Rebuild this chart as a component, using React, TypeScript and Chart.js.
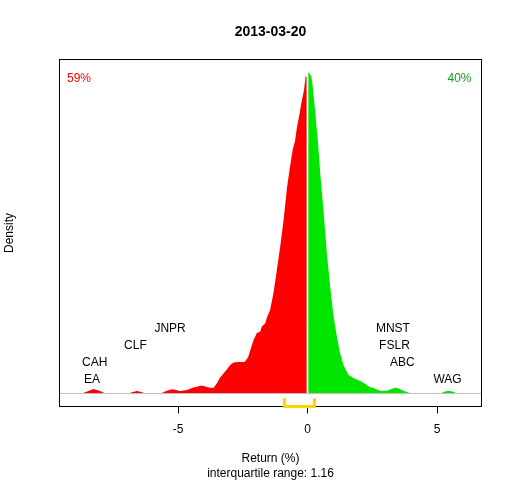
import React, { useEffect, useRef } from "react";
import { Chart, registerables } from "chart.js";

Chart.register(...registerables);

const FONT = "'Liberation Sans', Arial, Helvetica, sans-serif";

const chartTitle = "2013-03-20";
const xTitleLines = ["Return (%)", "interquartile range: 1.16"];
const yTitle = "Density";
const lossShare = "59%";
const gainShare = "40%";

const xMin = -9.58;
const xMax = 6.71;
const yMin = -0.0217;
const yMax = 0.5564;
const xTickValues = [-5, 0, 5];

// density of negative returns (red)
const lossX = [
  -8.72, -8.51, -8.27, -8.01, -7.82, -6.93, -6.75, -6.59, -6.43, -6.27,
  -5.63, -5.46, -5.24, -5.08, -4.92, -4.66, -4.41, -4.08, -3.83, -3.64,
  -3.51, -3.38, -3.25, -3.12, -2.99, -2.86, -2.68, -2.48, -2.41, -2.29,
  -2.09, -1.96, -1.83, -1.77, -1.64, -1.58, -1.45, -1.32, -1.19, -1.06,
  -0.93, -0.8, -0.7, -0.64, -0.57, -0.49, -0.42, -0.32, -0.22, -0.14,
  -0.08, -0.035,
];
const lossDensity = [
  0, 0.0033, 0.0075, 0.0042, 0, 0, 0.0025, 0.0042, 0.0025, 0,
  0.0008, 0.0042, 0.007, 0.0058, 0.0042, 0.0058, 0.01, 0.0133, 0.01, 0.0092,
  0.0167, 0.0267, 0.0333, 0.04, 0.0475, 0.0517, 0.0525, 0.0525, 0.0533, 0.0617,
  0.0892, 0.1008, 0.1033, 0.1117, 0.1167, 0.1258, 0.1392, 0.1675, 0.2058, 0.245,
  0.2892, 0.3425, 0.3725, 0.3892, 0.4083, 0.42, 0.4417, 0.4642, 0.4892, 0.5058,
  0.528, 0.528,
];

// density of positive returns (green)
const gainX = [
  0.02, 0.07, 0.14, 0.19, 0.22, 0.26, 0.3, 0.34, 0.38, 0.42,
  0.46, 0.48, 0.61, 0.74, 0.87, 1.0, 1.13, 1.25, 1.38, 1.58,
  1.77, 2.03, 2.15, 2.41, 2.54, 2.8, 3.06, 3.31, 3.44, 3.7,
  3.96, 3.98, 5.12, 5.27, 5.44, 5.61, 5.76,
];
const gainDensity = [
  0.535, 0.5333, 0.528, 0.5142, 0.5, 0.4833, 0.4667, 0.4447, 0.428, 0.4058,
  0.3833, 0.37, 0.3058, 0.2342, 0.178, 0.128, 0.0947, 0.0675, 0.0475, 0.0308,
  0.0258, 0.0208, 0.018, 0.0103, 0.0092, 0.0047, 0.0047, 0.0087, 0.0097, 0.0047,
  0.0003, 0, 0, 0.003, 0.0047, 0.003, 0,
];

// labelled stocks
const stockNames = ["CAH", "EA", "CLF", "JNPR", "MNST", "FSLR", "ABC", "WAG"];
const stockReturns = [-8.22, -8.33, -6.65, -5.31, 3.29, 3.35, 3.65, 5.4];
const stockLabelY = [0.053, 0.0253, 0.082, 0.11, 0.11, 0.082, 0.053, 0.0253];

// interquartile range bracket
const iqrLow = -0.9;
const iqrHigh = 0.26;
const bracketTop = -0.008;

const RED = "#FF0000";
const GREEN = "#00E600";
const GREEN_TEXT = "#16A016";
const GOLD = "#FFD200";
const GRAY = "#BEBEBE";

export default function App() {
  const ref = useRef<HTMLCanvasElement>(null);

  useEffect(() => {
    const canvas = ref.current;
    if (!canvas) return;
    Chart.defaults.font.family = FONT;

    const boxPlugin = {
      id: "plotBox",
      beforeDatasetsDraw(chart: any) {
        const { ctx, chartArea } = chart;
        const { left, top, right, bottom } = chartArea;
        ctx.save();
        ctx.strokeStyle = "#000000";
        ctx.lineWidth = 1;
        ctx.strokeRect(left, top, right - left, bottom - top);
        ctx.restore();
      },
    };

    const textPlugin = {
      id: "annotations",
      afterDatasetsDraw(chart: any) {
        const { ctx, chartArea, scales } = chart;
        const xs = scales.x;
        const ys = scales.y;
        ctx.save();
        // main title
        ctx.fillStyle = "#000000";
        ctx.font = `bold 14px ${FONT}`;
        ctx.textAlign = "center";
        ctx.textBaseline = "middle";
        ctx.fillText(chartTitle, (chartArea.left + chartArea.right) / 2, 32);
        // shares
        ctx.font = `12px ${FONT}`;
        ctx.textAlign = "left";
        ctx.fillStyle = RED;
        ctx.fillText(lossShare, chartArea.left + 7.5, chartArea.top + 19);
        ctx.textAlign = "right";
        ctx.fillStyle = GREEN_TEXT;
        ctx.fillText(gainShare, chartArea.right - 10, chartArea.top + 19);
        // stock labels
        ctx.fillStyle = "#000000";
        ctx.textAlign = "center";
        stockNames.forEach((name, i) => {
          ctx.fillText(
            name,
            xs.getPixelForValue(stockReturns[i]),
            ys.getPixelForValue(stockLabelY[i]) + 1
          );
        });
        ctx.restore();
      },
    };

    const chart = new Chart(canvas, {
      type: "line",
      data: {
        datasets: [
          {
            label: "negative",
            data: lossX.map((x, i) => ({ x, y: lossDensity[i] })),
            fill: "origin",
            backgroundColor: RED,
            borderColor: "rgba(0,0,0,0)",
            borderWidth: 0,
            pointRadius: 0,
            tension: 0,
            order: 2,
          },
          {
            label: "positive",
            data: gainX.map((x, i) => ({ x, y: gainDensity[i] })),
            fill: "origin",
            backgroundColor: GREEN,
            borderColor: "rgba(0,0,0,0)",
            borderWidth: 0,
            pointRadius: 0,
            tension: 0,
            order: 2,
          },
          {
            label: "baseline",
            data: [
              { x: xMin, y: 0 },
              { x: xMax, y: 0 },
            ],
            fill: false,
            borderColor: GRAY,
            borderWidth: 1,
            pointRadius: 0,
            order: 1,
          },
          {
            label: "iqr",
            data: [
              { x: iqrLow, y: bracketTop },
              { x: iqrLow, y: yMin },
              { x: iqrHigh, y: yMin },
              { x: iqrHigh, y: bracketTop },
            ],
            fill: false,
            borderColor: GOLD,
            borderWidth: 3,
            pointRadius: 0,
            clip: false,
            order: 0,
          } as any,
        ],
      },
      options: {
        animation: false,
        responsive: false,
        maintainAspectRatio: false,
        events: [],
        layout: { padding: { left: 0, right: 30.5, top: 59.5, bottom: 0.5 } },
        plugins: {
          legend: { display: false },
          tooltip: { enabled: false },
          title: { display: false },
        },
        scales: {
          x: {
            type: "linear",
            min: xMin,
            max: xMax,
            afterBuildTicks: (axis: any) => {
              axis.ticks = xTickValues.map((v) => ({ value: v }));
            },
            ticks: {
              color: "#000000",
              font: { size: 12, family: FONT },
              padding: 8.5,
              maxRotation: 0,
            },
            grid: {
              display: true,
              drawOnChartArea: false,
              drawTicks: true,
              tickLength: 7,
              color: "#000000",
              lineWidth: 1,
            },
            border: { display: false },
            title: {
              display: true,
              text: xTitleLines,
              color: "#000000",
              font: { size: 12, family: FONT, lineHeight: 1.25 },
              padding: { top: 6.1, bottom: -1.5 },
            },
          },
          y: {
            type: "linear",
            min: yMin,
            max: yMax,
            ticks: { display: false },
            grid: { display: false, drawTicks: false },
            border: { display: false },
            title: {
              display: true,
              text: yTitle,
              color: "#000000",
              font: { size: 12, family: FONT, lineHeight: 1.2 },
              padding: { top: 2.4, bottom: 42.7 },
            },
          },
        },
      },
      plugins: [boxPlugin, textPlugin],
    } as any);

    return () => chart.destroy();
  }, []);

  return (
    <canvas
      ref={ref}
      width={512}
      height={480}
      style={{ position: "absolute", left: 0, top: 0, width: 512, height: 480 }}
    />
  );
}
